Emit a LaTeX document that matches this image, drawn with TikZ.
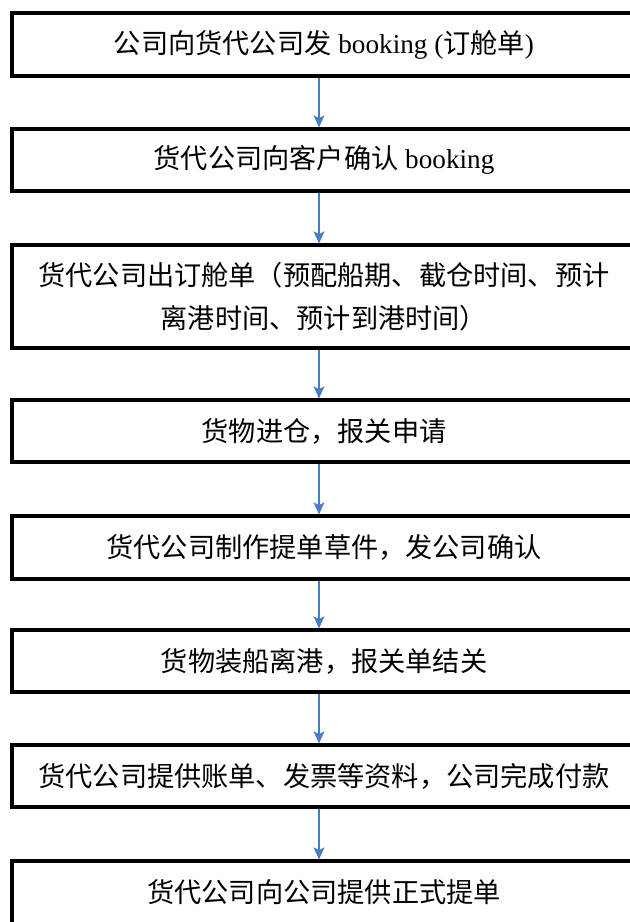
\documentclass[tikz,border=0pt]{standalone}
\usepackage{fontspec}
\setmainfont{Liberation Serif}
\newfontfamily\cjk{Noto Sans CJK SC}
\usetikzlibrary{arrows.meta}
\definecolor{arrblue}{HTML}{4A7CC4}
\tikzset{
  stepbox/.style={draw=black, line width=2.3pt, minimum width=468pt, inner sep=0pt, align=center,
    font=\fontsize{20.4}{32}\selectfont\cjk},
  flowarr/.style={draw=arrblue, line width=1.6pt, -{Stealth[length=9pt,width=8pt,inset=2pt]}}
}
\begin{document}
\begin{tikzpicture}[x=0.75pt,y=-0.75pt]
\useasboundingbox (0,0) rectangle (630,922);
\clip (0,0) rectangle (630,922);
\fill[white] (0,0) rectangle (630,922);
\coordinate (ax) at (319,0);
\node[stepbox, minimum height=47.25pt] (b1) at (324,44.5) {公司向货代公司发{\rmfamily\ booking (}订舱单{\rmfamily)}};
\node[stepbox, minimum height=46.5pt] (b2) at (324,160) {货代公司向客户确认{\rmfamily\ booking}};
\node[stepbox, minimum height=77.25pt] (b3) at (324,296.5) {货代公司出订舱单（预配船期、截仓时间、预计\\离港时间、预计到港时间）};
\node[stepbox, minimum height=46.5pt] (b4) at (324,431) {货物进仓，报关申请};
\node[stepbox, minimum height=47.25pt] (b5) at (324,547.5) {货代公司制作提单草件，发公司确认};
\node[stepbox, minimum height=46.5pt] (b6) at (324,661) {货物装船离港，报关单结关};
\node[stepbox, minimum height=46.5pt] (b7) at (324,776) {货代公司提供账单、发票等资料，公司完成付款};
\node[stepbox, minimum height=49.5pt] (b8) at (324,894) {\raisebox{4pt}{货代公司向公司提供正式提单}};
\draw[flowarr] (b1.south -| ax) -- (b2.north -| ax);
\draw[flowarr] (b2.south -| ax) -- (b3.north -| ax);
\draw[flowarr] (b3.south -| ax) -- (b4.north -| ax);
\draw[flowarr] (b4.south -| ax) -- (b5.north -| ax);
\draw[flowarr] (b5.south -| ax) -- (b6.north -| ax);
\draw[flowarr] (b6.south -| ax) -- (b7.north -| ax);
\draw[flowarr] (b7.south -| ax) -- (b8.north -| ax);
\end{tikzpicture}
\end{document}
